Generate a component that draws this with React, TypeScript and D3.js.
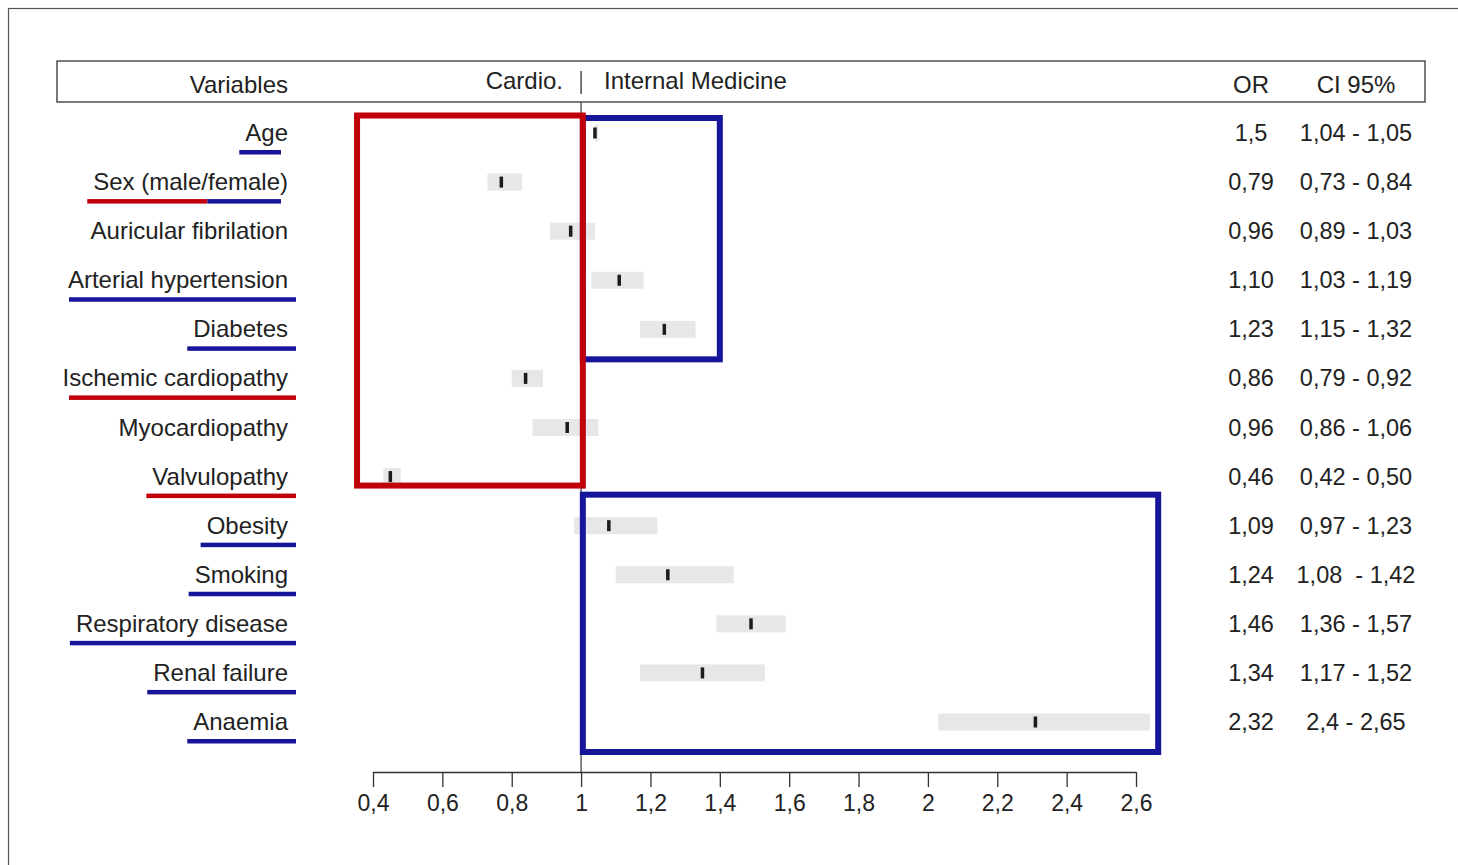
import React, {useEffect, useRef} from 'react'
import * as d3 from 'd3'

const variables = [
    'Age',
    'Sex (male/female)',
    'Auricular fibrilation',
    'Arterial hypertension',
    'Diabetes',
    'Ischemic cardiopathy',
    'Myocardiopathy',
    'Valvulopathy',
    'Obesity',
    'Smoking',
    'Respiratory disease',
    'Renal failure',
    'Anaemia'
]

// underline colours under each variable name ('' = none)
const underlines = [
    ['blue'], ['red', 'blue'], [], ['blue'], ['blue'], ['red'], [],
    ['red'], ['blue'], ['blue'], ['blue'], ['blue'], ['blue']
]

// plotted values
const estimates = [1.04, 0.77, 0.97, 1.11, 1.24, 0.84, 0.96, 0.45, 1.08, 1.25, 1.49, 1.35, 2.31]
const lowers = [1.04, 0.73, 0.91, 1.03, 1.17, 0.80, 0.86, 0.43, 0.98, 1.10, 1.39, 1.17, 2.03]
const uppers = [1.05, 0.83, 1.04, 1.18, 1.33, 0.89, 1.05, 0.48, 1.22, 1.44, 1.59, 1.53, 2.64]

// the table on the right, as printed
const orLabels = ['1,5', '0,79', '0,96', '1,10', '1,23', '0,86', '0,96', '0,46', '1,09', '1,24', '1,46', '1,34', '2,32']
const ciLabels = ['1,04 - 1,05', '0,73 - 0,84', '0,89 - 1,03', '1,03 - 1,19', '1,15 - 1,32', '0,79 - 0,92',
    '0,86 - 1,06', '0,42 - 0,50', '0,97 - 1,23', '1,08  - 1,42', '1,36 - 1,57', '1,17 - 1,52', '2,4 - 2,65']

const tickValues = [0.4, 0.6, 0.8, 1, 1.2, 1.4, 1.6, 1.8, 2, 2.2, 2.4, 2.6]

const RED = '#c0000a'
const BLUE = '#17159a'
const INK = '#222'
const FONT = '"Liberation Sans", Arial, Helvetica, sans-serif'

function App() {
    const chartRef = useRef(null)

    useEffect(() => {
        drawChart()
    }, [])

    function drawChart() {
        const width = 1458, height = 865

        d3.select(chartRef.current).selectAll('*').remove()

        const svg = d3.select(chartRef.current)
            .append('svg')
            .attr('width', width)
            .attr('height', height)
            .style('position', 'absolute')
            .style('left', 0)
            .style('top', 0)
            .style('background', '#fff')
            .style('font-family', FONT)

        const x = d3.scaleLinear().domain([0.4, 2.6]).range([373, 1136])
        const y = d3.scalePoint().domain(d3.range(variables.length)).range([133, 722])
        const axisY = 772
        const labelX = 288

        // outer frame (cropped on the right/bottom)
        svg.append('rect')
            .attr('x', 8.5).attr('y', 8.5)
            .attr('width', 1470).attr('height', 880)
            .attr('fill', 'none').attr('stroke', '#555').attr('stroke-width', 1.2)

        // header box
        svg.append('rect')
            .attr('x', 57).attr('y', 61)
            .attr('width', 1368).attr('height', 41)
            .attr('fill', 'none').attr('stroke', '#333').attr('stroke-width', 1.3)

        const header = svg.append('g').attr('font-size', 24).attr('fill', INK)
        header.append('text').attr('x', labelX).attr('y', 93).attr('text-anchor', 'end').text('Variables')
        header.append('text').attr('x', 563).attr('y', 89).attr('text-anchor', 'end').text('Cardio.')
        header.append('text').attr('x', 604).attr('y', 89).text('Internal Medicine')
        header.append('text').attr('x', 1251).attr('y', 93).attr('text-anchor', 'middle').text('OR')
        header.append('text').attr('x', 1356).attr('y', 93).attr('text-anchor', 'middle').text('CI 95%')
        svg.append('line')
            .attr('x1', x(1)).attr('x2', x(1)).attr('y1', 71).attr('y2', 94)
            .attr('stroke', '#333').attr('stroke-width', 1.3)

        // reference line at OR = 1
        svg.append('line')
            .attr('x1', x(1)).attr('x2', x(1)).attr('y1', 102).attr('y2', axisY)
            .attr('stroke', '#444').attr('stroke-width', 1.3)

        // confidence intervals
        svg.append('g')
            .selectAll('rect')
            .data(variables)
            .enter()
            .append('rect')
            .attr('x', (d, i) => x(lowers[i]))
            .attr('y', (d, i) => y(i) - 8.5)
            .attr('width', (d, i) => Math.max(3, x(uppers[i]) - x(lowers[i])))
            .attr('height', 17)
            .attr('fill', '#e6e7e8')

        // point estimates
        svg.append('g')
            .selectAll('rect')
            .data(variables)
            .enter()
            .append('rect')
            .attr('x', (d, i) => x(estimates[i]) - 1.75)
            .attr('y', (d, i) => y(i) - 5.5)
            .attr('width', 3.5)
            .attr('height', 11)
            .attr('fill', '#1b1b1b')

        // variable names with coloured underlines
        const names = svg.append('g').attr('font-size', 24).attr('fill', INK)
        variables.forEach((name, i) => {
            const t = names.append('text')
                .attr('x', labelX)
                .attr('y', y(i) + 8)
                .attr('text-anchor', 'end')
                .text(name)
            const colours = underlines[i]
            if (!colours.length) return
            const w = t.node().getComputedTextLength()
            const start = Math.max(69, labelX - w - 6)
            const end = i < 2 ? labelX - 7 : labelX + 8
            const split = colours.length > 1 ? start + (end - start) * 0.62 : end
            names.append('rect')
                .attr('x', start).attr('y', y(i) + 17)
                .attr('width', split - start).attr('height', 4.5)
                .attr('fill', colours[0] === 'red' ? RED : BLUE)
            if (colours.length > 1) {
                names.append('rect')
                    .attr('x', split).attr('y', y(i) + 17)
                    .attr('width', end - split).attr('height', 4.5)
                    .attr('fill', colours[1] === 'red' ? RED : BLUE)
            }
        })

        // OR and CI columns
        const table = svg.append('g').attr('font-size', 23.5).attr('fill', INK).attr('text-anchor', 'middle')
        table.selectAll('text.or')
            .data(orLabels)
            .enter()
            .append('text')
            .attr('class', 'or')
            .attr('x', 1251)
            .attr('y', (d, i) => y(i) + 8)
            .text(d => d)
        table.selectAll('text.ci')
            .data(ciLabels)
            .enter()
            .append('text')
            .attr('class', 'ci')
            .attr('x', 1356)
            .attr('y', (d, i) => y(i) + 8)
            .style('white-space', 'pre')
            .text(d => d)

        // group boxes
        const boxes = svg.append('g').attr('fill', 'none').attr('stroke-width', 6)
        boxes.append('rect')
            .attr('x', x(1.005)).attr('y', y(0) - 15)
            .attr('width', x(1.4) - x(1.005)).attr('height', y(4) + 30 - (y(0) - 15))
            .attr('stroke', BLUE)
        boxes.append('rect')
            .attr('x', x(1.005)).attr('y', y(8) - 31)
            .attr('width', x(2.664) - x(1.005)).attr('height', y(12) + 30 - (y(8) - 31))
            .attr('stroke', BLUE)
        boxes.append('rect')
            .attr('x', x(0.354)).attr('y', y(0) - 17.5)
            .attr('width', x(1.005) - x(0.354)).attr('height', y(7) + 9 - (y(0) - 17.5))
            .attr('stroke', RED)

        // x axis
        const axis = svg.append('g')
            .attr('transform', 'translate(0,' + axisY + ')')
            .call(d3.axisBottom(x)
                .tickValues(tickValues)
                .tickSize(15)
                .tickSizeOuter(0)
                .tickPadding(8)
                .tickFormat(d => String(+(+d).toFixed(1)).replace('.', ',')))
        axis.select('.domain').attr('stroke', '#333').attr('stroke-width', 1.3)
        axis.selectAll('.tick line').attr('stroke', '#333').attr('stroke-width', 1.3)
        axis.selectAll('.tick text')
            .attr('font-size', 23)
            .attr('font-family', FONT)
            .attr('fill', INK)
    }

    return (
        <div>
            <div ref={chartRef}></div>
        </div>
    )
}

export default App
